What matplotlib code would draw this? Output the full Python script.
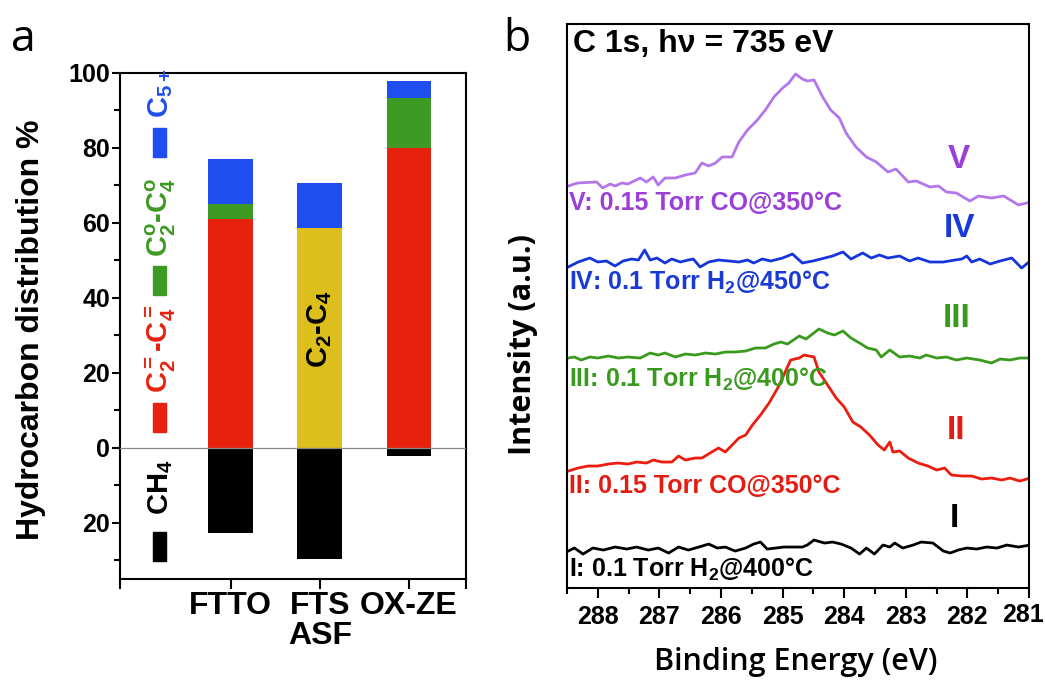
import matplotlib
matplotlib.use("Agg")
import matplotlib.pyplot as plt
from matplotlib.patches import Rectangle
from matplotlib.ticker import FixedLocator, FuncFormatter, MultipleLocator
import numpy as np

plt.rcParams['font.family'] = ['Liberation Sans', 'DejaVu Sans']
plt.rcParams['font.weight'] = 'bold'
plt.rcParams['axes.labelweight'] = 'bold'
plt.rcParams['mathtext.fontset'] = 'custom'
plt.rcParams['mathtext.rm'] = 'Liberation Sans:bold'
plt.rcParams['mathtext.it'] = 'Liberation Sans:bold'
plt.rcParams['mathtext.bf'] = 'Liberation Sans:bold'
plt.rcParams['mathtext.default'] = 'rm'

# ---------------- Panel a data ----------------
categories = ['FTTO', 'FTS\nASF', 'OX-ZE']
olefins_c2c4 = [61.0, 0.0, 80.0]      # red
paraffins_c2c4 = [4.0, 0.0, 13.3]     # green
asf_c2c4 = [0.0, 58.7, 0.0]           # yellow
c5plus = [12.1, 12.0, 4.6]            # blue
ch4 = [22.7, 29.6, 2.3]               # black (plotted downward)

# ---------------- Panel b data ----------------
# Binding energy (eV) and intensity (a.u.) for each spectrum
be_V = [288.48, 288.33, 288.02, 287.92, 287.80, 287.72, 287.61, 287.51, 287.31, 287.21, 287.10, 287.02,
        286.91, 286.74, 286.58, 286.42, 286.31, 286.20, 286.09, 285.98, 285.82, 285.71, 285.57, 285.41,
        285.28, 285.14, 285.00, 284.90, 284.79, 284.68, 284.60, 284.49, 284.35, 284.22, 284.08, 283.97,
        283.81, 283.64, 283.48, 283.29, 283.16, 282.96, 282.83, 282.61, 282.47, 282.34, 282.18, 281.96,
        281.82, 281.61, 281.41, 281.17, 280.98]
int_V = [402, 405, 406, 400, 404, 402, 405, 404, 410, 406, 411, 403,
         410, 410, 413, 415, 425, 422, 425, 431, 431, 446, 458, 468,
         478, 491, 500, 505, 514, 509, 507, 508, 491, 478, 470, 455,
         441, 431, 426, 416, 419, 406, 407, 401, 402, 396, 395, 387,
         392, 390, 392, 383, 386]

be_IV = [288.48, 288.32, 288.13, 288.00, 287.86, 287.72, 287.59, 287.45, 287.34, 287.24, 287.15, 287.04,
         286.91, 286.80, 286.66, 286.53, 286.45, 286.34, 286.20, 286.04, 285.87, 285.71, 285.57, 285.47,
         285.33, 285.19, 285.00, 284.84, 284.68, 284.51, 284.38, 284.19, 284.02, 283.89, 283.70, 283.56,
         283.43, 283.29, 283.10, 282.94, 282.80, 282.61, 282.39, 282.20, 282.09, 282.01, 281.93, 281.80,
         281.63, 281.47, 281.28, 281.12, 280.98]
int_IV = [321, 326, 330, 326, 327, 322, 327, 329, 328, 338, 328, 330,
          325, 329, 326, 328, 329, 321, 326, 328, 327, 326, 328, 325,
          329, 327, 330, 334, 325, 327, 329, 332, 336, 329, 335, 330,
          333, 330, 332, 327, 330, 326, 326, 328, 329, 332, 326, 329,
          324, 327, 330, 320, 327]

be_III = [288.48, 288.38, 288.27, 288.13, 288.00, 287.83, 287.67, 287.51, 287.31, 287.15, 287.02, 286.91,
          286.74, 286.58, 286.42, 286.25, 286.09, 285.93, 285.77, 285.60, 285.44, 285.28, 285.14, 285.03,
          284.92, 284.73, 284.62, 284.41, 284.27, 284.16, 284.02, 283.89, 283.75, 283.62, 283.48, 283.40,
          283.26, 283.10, 282.94, 282.77, 282.67, 282.50, 282.34, 282.18, 282.01, 281.80, 281.61, 281.47,
          281.31, 281.15, 280.98]
int_III = [230, 231, 228, 231, 230, 232, 230, 231, 230, 235, 233, 235,
           231, 234, 233, 235, 234, 236, 236, 237, 240, 240, 244, 246,
           244, 252, 249, 259, 255, 253, 257, 250, 245, 240, 238, 231,
           238, 231, 232, 230, 233, 230, 231, 228, 230, 228, 225, 229,
           228, 230, 230]

be_II = [288.48, 288.32, 288.16, 288.00, 287.83, 287.67, 287.51, 287.37, 287.21, 287.10, 286.96, 286.80,
         286.69, 286.58, 286.42, 286.31, 286.15, 286.04, 285.93, 285.82, 285.71, 285.60, 285.49, 285.36,
         285.22, 285.08, 284.98, 284.87, 284.73, 284.65, 284.49, 284.41, 284.27, 284.13, 284.00, 283.86,
         283.73, 283.59, 283.45, 283.35, 283.26, 283.21, 283.10, 282.96, 282.80, 282.64, 282.50, 282.37,
         282.26, 282.09, 281.93, 281.77, 281.61, 281.44, 281.31, 281.15, 280.98]
int_II = [117, 120, 122, 122, 124, 125, 124, 126, 125, 128, 126, 126,
          132, 128, 130, 130, 136, 140, 136, 143, 150, 153, 163, 173,
          185, 200, 213, 228, 230, 233, 231, 216, 203, 190, 181, 166,
          161, 153, 143, 138, 146, 136, 137, 130, 125, 122, 118, 120,
          113, 112, 112, 109, 110, 108, 110, 107, 110]

be_I = [288.48, 288.38, 288.24, 288.08, 287.91, 287.72, 287.53, 287.37, 287.18, 287.02, 286.85, 286.69,
        286.53, 286.36, 286.20, 286.06, 285.93, 285.77, 285.60, 285.47, 285.36, 285.25, 285.11, 284.98,
        284.84, 284.68, 284.60, 284.49, 284.32, 284.19, 284.05, 283.89, 283.75, 283.64, 283.51, 283.37,
        283.26, 283.18, 283.05, 282.88, 282.75, 282.56, 282.39, 282.28, 282.15, 282.01, 281.85, 281.69,
        281.52, 281.36, 281.17, 280.98]
int_I = [37, 40, 34, 40, 38, 41, 39, 41, 38, 40, 35, 41,
         38, 41, 44, 40, 41, 37, 40, 44, 46, 39, 40, 41,
         41, 41, 43, 48, 45, 46, 44, 40, 34, 40, 34, 43,
         41, 45, 40, 43, 46, 45, 37, 35, 38, 40, 39, 41,
         40, 43, 41, 43]

roman = ['V', 'IV', 'III', 'II', 'I']
conditions = ['V: 0.15 Torr CO@350°C', 'IV: 0.1 Torr H$_2$@450°C', 'III: 0.1 Torr H$_2$@400°C',
              'II: 0.15 Torr CO@350°C', 'I: 0.1 Torr H$_2$@400°C']

# ---------------- Colours ----------------
RED = '#e8210f'
GREEN = '#3d9a22'
BLUE = '#1f4ef0'
YELLOW = '#dcbe1c'

fig = plt.figure(figsize=(10.45, 6.91), dpi=100)

# ================= Panel a =================
ax = fig.add_axes([0.1148, 0.1621, 0.3311, 0.7323])
x = np.arange(1, len(categories) + 1)
w = 0.5
b1 = np.array(olefins_c2c4)
b2 = b1 + np.array(paraffins_c2c4)
b3 = b2 + np.array(asf_c2c4)
ax.bar(x, olefins_c2c4, w, color=RED, zorder=2)
ax.bar(x, paraffins_c2c4, w, bottom=b1, color=GREEN, zorder=2)
ax.bar(x, asf_c2c4, w, bottom=b2, color=YELLOW, zorder=2)
ax.bar(x, c5plus, w, bottom=b3, color=BLUE, zorder=2)
ax.bar(x, -np.array(ch4), w, color='black', zorder=2)
ax.axhline(0, color='#888888', lw=0.9, zorder=3)

xmin, xmax = -0.24, 3.64
ax.set_xlim(xmin, xmax)
ax.set_ylim(-35, 100)
ax.xaxis.set_major_locator(FixedLocator([xmin, 1, 2, 3, xmax]))
ax.set_xticklabels([''] + categories + [''], fontsize=23, linespacing=1.0)
ax.yaxis.set_major_locator(MultipleLocator(20))
ax.yaxis.set_minor_locator(MultipleLocator(10))
ax.yaxis.set_major_formatter(FuncFormatter(lambda v, p: f"{abs(int(round(v)))}"))
ax.tick_params(axis='y', which='major', direction='out', length=6, width=1.5, labelsize=18, pad=1)
ax.tick_params(axis='y', which='minor', direction='out', length=4, width=1.5)
ax.tick_params(axis='x', which='major', direction='out', length=7, width=1.5, pad=2)
ax.tick_params(right=False, top=False)
for s in ax.spines.values():
    s.set_linewidth(1.5)
ax.set_ylabel('Hydrocarbon distribution %', fontsize=23, fontweight='bold')
ax.yaxis.set_label_coords(-0.214, 0.492)

ax.text(2, 31.7, 'C$_2$-C$_4$', rotation=90, ha='center', va='center', fontsize=21, color='black', zorder=4)

# legend (vertical)
leg_items = [('CH$_4$', 'black', 0.0356, 0.1265),
             ('C$_2^=$-C$_4^=$', RED, 0.2905, 0.3676),
             ('C$_2^o$-C$_4^o$', GREEN, 0.5613, 0.6364),
             ('C$_{5+}$', BLUE, 0.834, 0.911)]
for label, col, ry, ty in leg_items:
    ax.add_patch(Rectangle((0.0954, ry), 0.0375, 0.058, transform=ax.transAxes, color=col, clip_on=False))
    ax.text(0.118, ty, label, rotation=90, ha='center', va='bottom', fontsize=21, color=col,
            fontweight='bold', transform=ax.transAxes)

fig.text(0.022, 0.943, 'a', fontsize=32, fontfamily='Open Sans', fontweight='normal', ha='center', va='center')
fig.text(0.495, 0.943, 'b', fontsize=32, fontfamily='Open Sans', fontweight='normal', ha='center', va='center')

# ================= Panel b =================
bx = fig.add_axes([0.5426, 0.1490, 0.4421, 0.8163])
series = [(be_V, int_V, '#b377ea', '#9a40d8'),
          (be_IV, int_IV, '#1535d8', '#1a3ad8'),
          (be_III, int_III, '#3a9a1e', '#3a9a1e'),
          (be_II, int_II, '#ec1c0e', '#e41b10'),
          (be_I, int_I, 'black', 'black')]
for be, it, col, tcol in series:
    bx.plot(be, it, color=col, lw=2.0)

xb_lo, xb_hi = 288.5, 281
bx.set_xlim(xb_lo, xb_hi)
bx.set_ylim(0, 564)
bx.xaxis.set_major_locator(MultipleLocator(1))
bx.xaxis.set_minor_locator(MultipleLocator(0.5))
# last label (at the right edge) is drawn separately, nudged so it stays inside the figure
bx.xaxis.set_major_formatter(FuncFormatter(lambda v, p: '' if abs(v - xb_hi) < 1e-6 else f"{int(round(v))}"))
bx.tick_params(axis='x', which='major', direction='out', length=7, width=1.5, labelsize=18, pad=5)
bx.tick_params(axis='x', which='minor', direction='out', length=4.5, width=1.5)
bx.annotate(f"{int(xb_hi)}", xy=(xb_hi, 0), xycoords=('data', 'axes fraction'),
            xytext=(-4, -10.5), textcoords='offset points', ha='center', va='top', fontsize=18,
            annotation_clip=False)
bx.set_yticks([])
for s in bx.spines.values():
    s.set_linewidth(1.5)

bx.set_xlabel('Binding Energy (eV)', fontsize=22, fontfamily='Open Sans', fontweight='semibold')
bx.xaxis.set_label_coords(0.496, -0.104)
bx.set_ylabel('Intensity (a.u.)', fontsize=22, fontfamily='Open Sans', fontweight='bold')
bx.yaxis.set_label_coords(-0.062, 0.431)

bx.text(0.013, 0.965, 'C 1s, hν = 735 eV', transform=bx.transAxes, fontsize=23, ha='left', va='center')

roman_pos = [(282.14, 428), (282.13, 360), (282.18, 270), (282.18, 158), (282.21, 70)]
cond_base = [378, 298, 201, 95, 11]
for (be, it, col, tcol), r, (rx, ry), c, cy in zip(series, roman, roman_pos, conditions, cond_base):
    bx.text(rx, ry, r, color=tcol, fontsize=24, ha='center', va='center')
    bx.text(288.46, cy, c, color=tcol, fontsize=18, ha='left', va='baseline')

fig.savefig('out.png', dpi=100)
